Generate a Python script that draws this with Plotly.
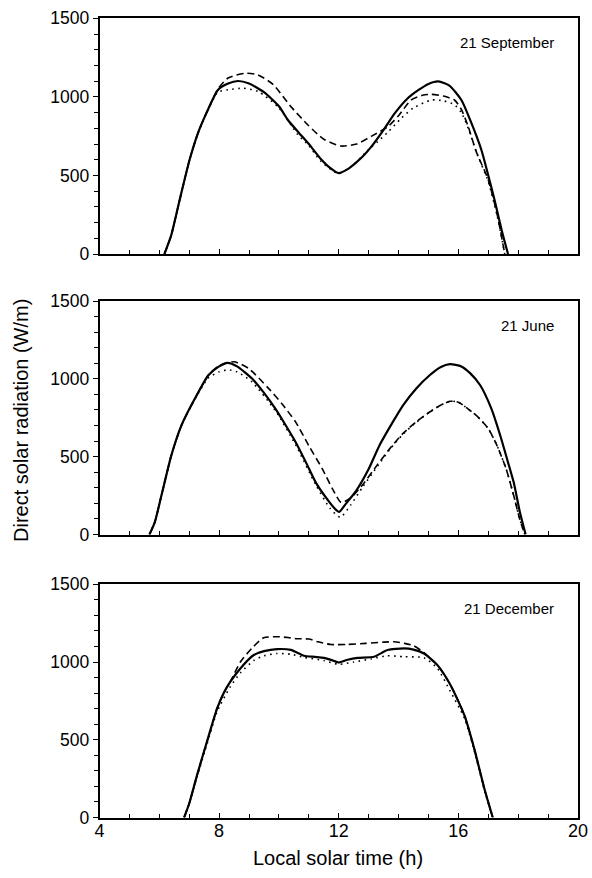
import plotly.graph_objects as go

# ---------------- data (hours, W/m) ----------------
sep_solid_t = [6.17, 6.4, 6.68, 7.01, 7.29, 7.57, 7.96, 8.3, 8.63, 9.0, 9.5, 10.0, 10.3, 10.65, 11.0, 11.4, 11.7, 12.0, 12.3, 12.55, 12.8, 13.09, 13.5, 13.87, 14.3, 14.67, 15.0, 15.33, 15.7, 16.1, 16.4, 16.77, 17.0, 17.21, 17.45, 17.66]
sep_solid_v = [0, 120, 344, 598, 768, 895, 1044, 1085, 1101, 1085, 1030, 940, 853, 775, 700, 605, 550, 515, 540, 577, 620, 683, 790, 895, 990, 1044, 1082, 1098, 1072, 980, 850, 662, 500, 344, 150, 0]

sep_dash_t = [6.17, 6.4, 6.68, 7.01, 7.29, 7.57, 7.96, 8.3, 8.85, 9.3, 9.8, 10.4, 10.97, 11.5, 12.08, 12.6, 13.1, 13.64, 14.0, 14.42, 14.8, 15.1, 15.5, 15.87, 16.1, 16.33, 16.6, 17.0, 17.3, 17.55]
sep_dash_v = [0, 120, 344, 598, 768, 895, 1050, 1120, 1150, 1140, 1080, 938, 821, 730, 687, 700, 750, 810, 880, 980, 1010, 1016, 1005, 980, 920, 810, 650, 471, 250, 0]

sep_dot_t = [6.17, 6.4, 6.68, 7.01, 7.29, 7.57, 7.96, 8.3, 8.8, 9.3, 10.0, 10.63, 11.0, 11.4, 12.0, 12.5, 13.0, 13.3, 13.64, 14.09, 14.5, 15.1, 15.5, 15.87, 16.1, 16.33, 16.6, 17.0, 17.3, 17.55]
sep_dot_v = [0, 120, 344, 598, 768, 895, 1030, 1045, 1055, 1035, 930, 760, 690, 590, 512, 570, 665, 715, 775, 864, 930, 980, 975, 950, 900, 800, 650, 460, 240, 0]

jun_solid_t = [5.67, 5.85, 6.07, 6.4, 6.74, 7.19, 7.64, 8.0, 8.28, 8.6, 9.1, 9.5, 9.88, 10.2, 10.56, 10.9, 11.23, 11.6, 11.85, 12.01, 12.25, 12.58, 13.0, 13.36, 13.8, 14.15, 14.6, 15.04, 15.4, 15.72, 16.1, 16.4, 16.73, 17.1, 17.4, 17.65, 17.85, 18.05, 18.25]
jun_solid_v = [0, 80, 250, 507, 701, 873, 1023, 1080, 1103, 1080, 1002, 910, 809, 710, 593, 465, 335, 230, 170, 145, 200, 280, 420, 572, 720, 830, 940, 1023, 1075, 1094, 1080, 1035, 959, 810, 636, 470, 335, 150, 0]

jun_dash_t = [5.67, 5.85, 6.07, 6.4, 6.74, 7.19, 7.64, 8.0, 8.5, 9.0, 9.66, 10.1, 10.56, 11.0, 11.45, 11.8, 12.08, 12.4, 12.8, 13.3, 13.7, 14.15, 14.6, 15.04, 15.4, 15.72, 16.0, 16.3, 16.6, 17.0, 17.29, 17.6, 17.85, 18.05, 18.22]
jun_dash_v = [0, 80, 250, 507, 701, 873, 1023, 1085, 1110, 1065, 937, 840, 722, 570, 422, 290, 205, 235, 320, 450, 550, 650, 725, 787, 830, 856, 850, 810, 765, 680, 572, 420, 250, 100, 0]

jun_dot_t = [5.67, 5.85, 6.07, 6.4, 6.74, 7.19, 7.64, 8.0, 8.3, 8.6, 9.1, 9.9, 10.56, 11.23, 11.7, 12.05, 12.4, 12.8, 13.3, 13.7, 14.15, 14.6, 15.04, 15.4, 15.72, 16.0, 16.3, 16.6, 17.0, 17.29, 17.6, 17.85, 18.05, 18.22]
jun_dot_v = [0, 80, 250, 507, 701, 870, 1005, 1045, 1058, 1045, 980, 790, 575, 320, 170, 110, 190, 305, 440, 545, 645, 722, 787, 830, 856, 850, 810, 765, 680, 572, 420, 250, 100, 0]

dec_solid_t = [6.83, 7.0, 7.26, 7.59, 7.93, 8.15, 8.37, 8.71, 9.16, 9.5, 9.94, 10.4, 10.84, 11.2, 11.5, 11.8, 12.0, 12.3, 12.63, 13.18, 13.63, 14.18, 14.5, 14.85, 15.3, 15.74, 16.2, 16.53, 16.87, 17.15]
dec_solid_v = [0, 90, 271, 486, 701, 800, 872, 959, 1045, 1070, 1083, 1078, 1040, 1033, 1027, 1010, 997, 1015, 1027, 1034, 1077, 1088, 1080, 1055, 980, 851, 658, 443, 185, 0]

dec_dash_t = [6.83, 7.0, 7.26, 7.59, 7.93, 8.15, 8.37, 8.71, 9.1, 9.49, 9.94, 10.3, 10.6, 11.0, 11.3, 11.73, 12.28, 12.9, 13.5, 13.85, 14.2, 14.5, 14.85, 15.3, 15.74, 16.2, 16.53, 16.87, 17.15]
dec_dash_v = [0, 90, 271, 486, 701, 800, 872, 1000, 1090, 1156, 1163, 1158, 1150, 1148, 1130, 1113, 1113, 1120, 1128, 1130, 1120, 1105, 1060, 980, 851, 658, 443, 185, 0]

dec_dot_t = [6.83, 7.0, 7.26, 7.59, 7.93, 8.37, 8.71, 9.16, 9.5, 9.94, 10.4, 10.84, 11.5, 12.0, 12.5, 13.08, 13.6, 14.18, 14.85, 15.3, 15.74, 16.2, 16.53, 16.87, 17.15]
dec_dot_v = [0, 90, 260, 470, 680, 840, 930, 1010, 1040, 1055, 1050, 1030, 1010, 985, 1000, 1020, 1040, 1034, 1027, 959, 808, 640, 430, 175, 0]

panel_labels = ["21 September", "21 June", "21 December"]
x_ticks = [4, 8, 12, 16, 20]
y_ticks = [0, 500, 1000, 1500]

# ---------------- figure ----------------
W, H = 592, 878
FONT = "Liberation Sans, Arial, sans-serif"

panels = [
    (sep_solid_t, sep_solid_v, sep_dash_t, sep_dash_v, sep_dot_t, sep_dot_v),
    (jun_solid_t, jun_solid_v, jun_dash_t, jun_dash_v, jun_dot_t, jun_dot_v),
    (dec_solid_t, dec_solid_v, dec_dash_t, dec_dash_v, dec_dot_t, dec_dot_v),
]
# pixel extents (top, bottom) of each plot area
pix = [(18.3, 254.0), (301.0, 534.5), (584.3, 817.5)]
x_left, x_right = 99.5, 578.0

fig = go.Figure()
layout = dict(
    width=W, height=H,
    margin=dict(l=0, r=0, t=0, b=0, autoexpand=False),
    paper_bgcolor="white", plot_bgcolor="white",
    showlegend=False,
    font=dict(family=FONT, color="black", size=18),
    annotations=[],
)

for i, (st, sv, dt, dv, ot, ov) in enumerate(panels):
    n = "" if i == 0 else str(i + 1)
    xa, ya = "x" + n, "y" + n
    fig.add_trace(go.Scatter(x=ot, y=ov, mode="lines", xaxis=xa, yaxis=ya,
                             line=dict(color="black", width=1.6, dash="1.6px,4.4px", shape="spline", smoothing=0.6)))
    fig.add_trace(go.Scatter(x=dt, y=dv, mode="lines", xaxis=xa, yaxis=ya,
                             line=dict(color="black", width=1.6, dash="7px,4px", shape="spline", smoothing=0.6)))
    fig.add_trace(go.Scatter(x=st, y=sv, mode="lines", xaxis=xa, yaxis=ya,
                             line=dict(color="black", width=2.2, shape="spline", smoothing=0.6)))
    top, bot = pix[i]
    layout["xaxis" + n] = dict(
        domain=[x_left / W, x_right / W], range=[4, 20], anchor=ya,
        automargin=False,
        tickvals=x_ticks, showticklabels=(i == 2),
        ticks="inside", ticklen=5, tickwidth=1.3, tickcolor="black",
        minor=dict(dtick=1, ticks="inside", ticklen=4, tickwidth=1.2, tickcolor="black"),
        showline=True, linecolor="black", linewidth=1.6, mirror=True,
        showgrid=False, zeroline=False,
        ticklabelstandoff=-4,
        tickfont=dict(size=18, family=FONT, color="black"),
    )
    layout["yaxis" + n] = dict(
        domain=[1 - bot / H, 1 - top / H], range=[0, 1500], anchor=xa,
        automargin=False,
        tickvals=y_ticks,
        ticks="outside", ticklen=5, tickwidth=1.3, tickcolor="black",
        minor=dict(dtick=100, ticks="outside", ticklen=4, tickwidth=1.2, tickcolor="black"),
        showline=True, linecolor="black", linewidth=1.6, mirror=True,
        showgrid=False, zeroline=False,
        tickfont=dict(size=17.5, family=FONT, color="black"),
    )
    layout["annotations"].append(dict(
        text=panel_labels[i], xref="paper", yref="paper",
        x=556 / W, y=1 - (top + 24) / H, xanchor="right", yanchor="middle",
        showarrow=False, font=dict(size=15, family=FONT, color="black")))

layout["annotations"].append(dict(
    text="Direct solar radiation (W/m)", xref="paper", yref="paper",
    x=21 / W, y=1 - 421 / H, xanchor="center", yanchor="middle", textangle=-90,
    showarrow=False, font=dict(size=20, family=FONT, color="black")))
layout["annotations"].append(dict(
    text="Local solar time (h)", xref="paper", yref="paper",
    x=338 / W, y=1 - 858 / H, xanchor="center", yanchor="middle",
    showarrow=False, font=dict(size=20, family=FONT, color="black")))

fig.update_layout(**layout)
fig.write_html("out.html")
